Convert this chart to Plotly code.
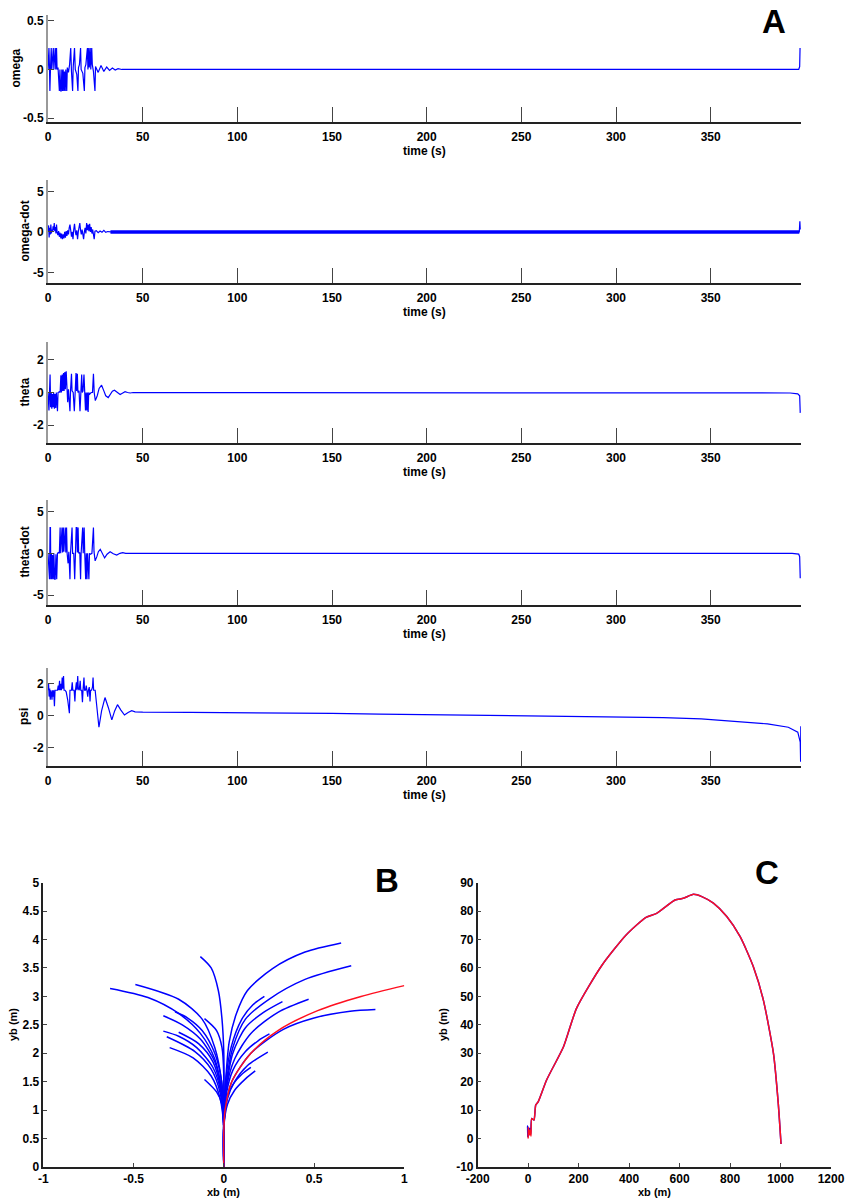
import plotly.graph_objects as go

# ---------------------------------------------------------------- data
# Panel A: attitude histories, (time [s], value) pairs
omega_pts = [
    (0, 0), (0.5, 0.22), (0.8, 0.0), (1.0, -0.22), (1.3, 0.0), (1.7, 0.22), (2.0, 0.0),
    (2.8, 0.22), (3.1, 0.0), (3.5, 0.22), (3.8, 0.22), (4.1, 0.0), (4.5, 0.22), (4.8, 0.0),
    (5.3, 0.02), (6.0, -0.22), (6.3, 0.0), (6.7, -0.22), (7.0, -0.22), (7.3, 0.0),
    (7.7, -0.22), (8.0, 0.0), (8.4, -0.22), (8.7, -0.02), (9.1, -0.22), (9.4, 0.0),
    (9.9, -0.22), (10.2, 0.02), (10.8, -0.03), (11.4, 0.05), (12.0, 0.22), (12.4, -0.02),
    (13.0, -0.22), (13.3, 0.02), (14.0, 0.22), (14.4, 0.0), (15.2, -0.05), (15.8, -0.22),
    (16.1, 0.02), (16.6, 0.05), (17.2, 0.22), (17.5, 0.0), (18.4, -0.04), (19.2, -0.22),
    (19.5, 0.02), (20.0, 0.05), (20.8, 0.22), (21.1, 0.0), (21.5, 0.22), (21.8, 0.02),
    (22.3, 0.22), (22.6, 0.0), (23.1, 0.22), (23.4, 0.05), (24.0, -0.02), (24.8, -0.22),
    (25.1, 0.03), (26.5, -0.03), (28.0, 0.04), (29.5, -0.02), (31.0, 0.025), (32.5, -0.01),
    (34.0, 0.015), (35.5, -0.005), (37.0, 0.008), (39.0, 0.0), (396.5, 0.0), (397.0, 0.03),
    (397.2, 0.22),
]

omegadot_pts = [
    (0, 0), (0.3, 0.8), (0.6, -0.7), (0.9, 0.5), (1.2, -0.3), (1.5, 0.9), (1.8, -0.2),
    (2.1, 0.3), (2.4, 0.0), (2.7, 0.7), (3.0, 0.2), (3.3, 1.1), (3.6, 0.1), (3.9, 0.6),
    (4.2, -0.2), (4.5, 0.9), (4.8, 0.0), (5.2, -0.4), (5.6, 0.1), (6.0, -0.6), (6.4, -0.1),
    (6.8, -0.8), (7.2, -0.2), (7.6, -0.9), (8.0, -0.3), (8.4, -0.8), (8.8, 0.0), (9.2, -0.7),
    (9.6, 0.1), (10.0, -0.5), (10.4, 0.2), (10.8, -0.3), (11.2, 0.5), (11.6, 0.9), (12.0, 0.2),
    (12.4, -0.6), (12.8, 0.0), (13.2, -0.9), (13.6, 0.3), (14.0, 1.0), (14.4, 0.1),
    (14.8, -0.4), (15.2, 0.2), (15.6, -0.9), (16.0, 0.0), (16.4, 0.6), (16.8, 1.1),
    (17.2, 0.2), (17.6, -0.3), (18.0, 0.3), (18.4, -0.6), (18.8, -0.9), (19.2, 0.0),
    (19.6, 0.5), (20.0, -0.2), (20.4, 1.1), (20.8, 0.2), (21.2, 0.9), (21.6, 0.1),
    (22.0, 1.0), (22.4, 0.0), (22.8, 0.6), (23.2, -0.2), (23.6, 0.3), (24.0, -0.3),
    (24.4, -0.9), (24.8, 0.1), (25.5, 0.15), (26.5, -0.1), (27.5, 0.1), (28.5, -0.05),
    (29.5, 0.2), (30.5, -0.05), (31.5, 0.05), (33.0, 0.0), (396.8, 0.0), (397.1, 1.3),
    (397.3, 0.3),
]

theta_pts = [
    (0, 0), (0.5, -1.1), (0.8, 0.0), (1.1, 1.1), (1.4, -0.9), (1.7, 0.0), (2.0, -1.0),
    (2.3, -0.1), (2.7, -0.9), (3.0, 0.0), (3.4, -1.0), (3.7, -0.1), (4.1, -0.95), (4.4, 0.0),
    (5.0, -1.15), (5.3, 0.0), (6.0, 0.05), (6.4, 0.0), (6.8, 1.05), (7.1, 0.0), (7.5, 1.1),
    (7.8, 0.1), (8.2, 1.2), (8.5, 0.1), (8.9, 1.25), (9.2, 0.2), (9.6, 1.3), (10.0, 0.1),
    (10.4, -0.6), (10.8, 0.2), (11.2, -0.4), (11.6, -1.15), (11.9, 0.1), (12.4, 1.15),
    (12.7, 0.1), (13.3, 0.0), (13.9, -1.15), (14.2, 0.0), (14.8, 1.2), (15.1, 0.1),
    (15.5, 1.15), (15.8, 0.0), (16.4, 0.1), (16.9, -1.15), (17.2, 0.0), (17.8, 1.1),
    (18.1, 0.0), (18.5, 0.1), (19.0, 1.1), (19.3, 0.0), (19.8, -1.1), (20.1, 0.0),
    (20.5, -1.1), (20.8, 0.0), (21.2, -1.2), (21.5, 0.0), (22.0, -0.1), (22.8, 0.0),
    (23.5, 0.0), (24.0, 1.15), (24.4, 0.0), (25.0, -0.5), (26.0, -0.2), (27.0, 0.25),
    (28.3, 0.45), (29.5, 0.1), (30.5, -0.2), (31.8, -0.31), (33.0, -0.1), (34.0, 0.08),
    (35.1, 0.14), (36.5, 0.0), (38.1, -0.12), (39.5, -0.03), (40.7, 0.05), (42.0, 0.0),
    (43.4, -0.03), (45.0, 0.0), (380.0, 0.0), (392.0, -0.03), (396.0, -0.08), (397.0, -0.2),
    (397.3, -1.25),
]

thetadot_pts = [
    (0, 0), (0.5, -3.1), (0.8, -3.1), (1.1, 3.1), (1.3, 3.1), (1.5, -3.1), (1.8, 0.0),
    (2.1, -3.1), (2.4, -0.2), (2.8, -3.1), (3.1, 0.0), (3.5, -3.1), (3.8, -3.1), (4.2, -0.1),
    (4.6, -3.1), (5.0, 0.0), (5.5, 0.1), (6.0, 0.0), (6.4, 3.1), (6.7, 0.0), (7.1, 3.1),
    (7.4, 3.1), (7.7, 0.1), (8.1, 3.1), (8.4, 0.2), (8.8, 3.1), (9.1, 3.1), (9.4, 0.1),
    (9.8, 3.1), (10.1, 0.0), (10.6, -1.2), (11.0, 0.2), (11.6, -3.1), (11.9, 0.0),
    (12.4, 3.1), (12.7, 3.1), (13.0, 0.0), (13.6, 0.0), (14.1, -3.1), (14.4, 0.0),
    (14.9, 3.1), (15.2, 3.1), (15.5, 0.1), (15.9, 3.1), (16.2, 0.0), (16.8, 0.1),
    (17.2, -3.1), (17.5, 0.0), (18.0, 3.1), (18.3, 3.1), (18.6, 0.0), (19.1, 3.1),
    (19.4, 0.0), (19.9, -3.1), (20.2, 0.0), (20.6, -3.1), (20.9, 0.0), (21.3, -3.1),
    (21.6, -3.1), (21.9, 0.0), (22.4, -0.1), (23.2, 0.0), (24.0, 3.1), (24.3, 0.2),
    (24.9, -0.9), (25.8, -0.4), (26.6, 0.2), (27.6, 0.48), (28.7, 0.0), (29.9, -0.55),
    (31.2, -0.1), (32.8, 0.2), (34.5, -0.05), (36.3, -0.2), (38.0, 0.0), (39.5, 0.08),
    (41.0, 0.0), (393.0, 0.0), (396.5, -0.1), (397.0, -0.4), (397.3, -3.0),
]

psi_pts = [
    (0, 1.6), (0.3, 2.0), (0.6, 1.2), (0.9, 1.7), (1.2, 1.0), (1.5, 1.6), (1.8, 1.4),
    (2.1, 1.0), (2.4, 1.6), (2.7, 1.2), (3.0, 1.6), (3.4, 0.6), (3.7, 1.6), (4.2, 1.6),
    (5.0, 1.6), (5.4, 1.9), (5.7, 1.6), (6.1, 2.2), (6.4, 1.6), (6.8, 2.0), (7.1, 1.6),
    (7.5, 2.4), (7.8, 1.7), (8.2, 2.5), (8.5, 1.6), (9.0, 1.6), (9.6, 1.5), (10.4, 1.0),
    (10.9, 0.6), (11.3, 0.15), (11.6, 1.6), (12.4, 1.6), (12.8, 2.1), (13.1, 1.6),
    (13.8, 1.6), (14.2, 0.9), (14.5, 1.6), (15.0, 2.1), (15.3, 1.6), (15.7, 2.5),
    (16.0, 1.7), (16.5, 1.6), (17.0, 2.2), (17.3, 1.6), (17.8, 1.6), (18.2, 0.85),
    (18.5, 1.6), (19.0, 2.4), (19.3, 1.6), (19.8, 1.6), (20.2, 1.9), (20.5, 1.6),
    (21.0, 1.2), (21.3, 1.6), (21.8, 1.8), (22.2, 0.9), (22.5, 1.6), (23.0, 1.6),
    (23.5, 1.8), (23.8, 2.4), (24.1, 1.6), (24.9, 1.6), (25.8, 0.4), (26.9, -0.73),
    (28.3, 0.3), (30.1, 1.14), (31.9, 0.5), (33.7, -0.27), (35.2, 0.3), (36.7, 0.69),
    (38.5, 0.35), (40.4, 0.04), (42.3, 0.2), (44.2, 0.31), (46.0, 0.24), (50, 0.22),
    (75, 0.21), (100, 0.2), (125, 0.18), (150, 0.14), (175, 0.1), (200, 0.07), (225, 0.03),
    (250, 0.0), (275, -0.03), (300, -0.07), (325, -0.12), (345, -0.2), (362, -0.35),
    (380, -0.52), (391, -0.73), (396, -1.04), (397.3, -1.67), (397.5, -2.9), (397.6, -0.67),
]

time_ticks = [0, 50, 100, 150, 200, 250, 300, 350]

# Panel B: body-frame trajectories (xb, yb) in metres
left_branches = [
    [(0, 0), (0, 0.8), (-0.015, 1.4), (-0.05, 1.9), (-0.13, 2.35), (-0.25, 2.7), (-0.42, 2.98), (-0.63, 3.14)],
    [(0, 0), (0, 0.8), (-0.012, 1.5), (-0.05, 2.1), (-0.12, 2.6), (-0.25, 2.95), (-0.49, 3.21)],
    [(0, 0), (0, 0.8), (-0.015, 1.4), (-0.05, 1.85), (-0.13, 2.25), (-0.23, 2.5), (-0.335, 2.66)],
    [(0, 0), (0, 0.8), (-0.012, 1.5), (-0.05, 2.0), (-0.12, 2.4), (-0.2, 2.62), (-0.27, 2.73)],
    [(0, 0), (0, 0.7), (-0.015, 1.3), (-0.06, 1.75), (-0.15, 2.1), (-0.25, 2.3), (-0.335, 2.39)],
    [(0, 0), (0, 0.7), (-0.02, 1.3), (-0.07, 1.72), (-0.16, 2.03), (-0.316, 2.29)],
    [(0, 0), (0, 0.7), (-0.015, 1.35), (-0.06, 1.85), (-0.14, 2.17), (-0.25, 2.37)],
    [(0, 0), (0, 0.7), (-0.02, 1.2), (-0.07, 1.6), (-0.17, 1.92), (-0.30, 2.10)],
    [(0, 0), (0, 1.0), (0.0, 2.0), (-0.01, 2.6), (-0.03, 3.1), (-0.07, 3.5), (-0.13, 3.70)],
    [(0, 0), (0, 1.0), (0, 1.6), (-0.01, 2.1), (-0.04, 2.4), (-0.107, 2.61)],
    [(0, 0), (0, 0.7), (-0.01, 1.1), (-0.04, 1.32), (-0.107, 1.54)],
]
right_branches = [
    [(0, 0), (0, 0.8), (0.01, 1.5), (0.03, 2.2), (0.07, 2.7), (0.13, 3.1), (0.27, 3.49), (0.45, 3.78), (0.65, 3.94)],
    [(0, 0), (0, 0.8), (0.015, 1.5), (0.05, 2.1), (0.12, 2.6), (0.25, 2.95), (0.45, 3.3), (0.706, 3.54)],
    [(0, 0), (0, 0.6), (0.007, 1.0), (0.044, 1.5), (0.15, 2.0), (0.33, 2.42), (0.5, 2.62), (0.7, 2.74), (0.84, 2.77)],
    [(0, 0), (0, 0.8), (0.015, 1.4), (0.06, 1.9), (0.15, 2.35), (0.3, 2.72), (0.47, 2.95)],
    [(0, 0), (0, 0.8), (0.015, 1.4), (0.05, 2.0), (0.12, 2.45), (0.22, 2.72), (0.325, 2.91)],
    [(0, 0), (0, 0.8), (0.01, 1.5), (0.04, 2.1), (0.1, 2.6), (0.16, 2.85), (0.225, 3.0)],
    [(0, 0), (0, 0.7), (0.015, 1.3), (0.05, 1.7), (0.12, 2.03), (0.19, 2.22), (0.253, 2.34)],
    [(0, 0), (0, 0.7), (0.02, 1.2), (0.06, 1.5), (0.13, 1.78), (0.244, 2.02)],
    [(0, 0), (0, 0.7), (0.02, 1.1), (0.06, 1.35), (0.12, 1.55), (0.174, 1.69)],
    [(0, 0), (0, 0.7), (0.015, 1.2), (0.05, 1.45), (0.1, 1.63), (0.15, 1.75)],
]
red_branch = [(0, 0), (0, 0.6), (0.007, 1.0), (0.044, 1.5), (0.15, 2.0), (0.30, 2.4),
              (0.52, 2.75), (0.76, 3.0), (1.0, 3.19)]

# Panel C: long-range path (xb, yb) in metres
c_path = [
    (14, 7.1), (23, 6.5), (30, 11.8), (40, 13.0), (73, 20.6), (140, 32.3), (192, 45.9),
    (291, 60.8), (389, 71.7), (467, 77.8), (509, 79.2), (582, 83.9), (615, 84.5),
    (655, 85.9), (688, 85.1), (734, 82.8), (787, 78.1), (840, 71.0), (892, 60.5),
    (932, 48.7), (972, 30.0), (991, 12.4), (1002, -1.9),
]
c_start_red = [(0, 0), (0, 4.0), (5, 1.3), (7, 3.0), (11, 0.9)]
c_start_blue = [(-1, 0.5), (-3, 4.4), (2, 1.0), (6, 3.6), (10, 1.5)]

# ---------------------------------------------------------------- style
W, H = 845, 1198
BLUE = "#0000ff"
RED = "#ff1020"
FONT = "Liberation Sans Narrow, Liberation Sans, Arial, sans-serif"
tick_font = dict(family=FONT, size=12, color="black", weight="bold")
small_font = dict(family=FONT, size=11, color="black", weight="bold")


def hx(px):
    return px / W


def vy(py):
    return 1 - py / H


def unzip(pts):
    return [p[0] for p in pts], [p[1] for p in pts]


def fmt(v):
    return f"{v:g}"


fig = go.Figure()
layout = dict(
    width=W, height=H, autosize=False,
    margin=dict(l=0, r=0, t=0, b=0, autoexpand=False),
    paper_bgcolor="white", plot_bgcolor="white",
    showlegend=False,
)
annotations = []

# Panel A: five stacked time histories
panel_a = [
    ("omega", omega_pts, 15, 122, [-0.54, 0.56], [-0.5, 0, 0.5], 16),
    ("omega-dot", omegadot_pts, 180, 283, [-6.3, 6.4], [-5, 0, 5], 24),
    ("theta", theta_pts, 342, 443, [-3.1, 3.1], [-2, 0, 2], 24),
    ("theta-dot", thetadot_pts, 500, 605, [-6.2, 6.4], [-5, 0, 5], 24),
    ("psi", psi_pts, 668, 766, [-3.17, 3.0], [-2, 0, 2], 24),
]

for i, (name, pts, top, bot, yr, yt, tx) in enumerate(panel_a, start=1):
    xs, ys = unzip(pts)
    sfx = "" if i == 1 else str(i)
    fig.add_trace(go.Scatter(x=xs, y=ys, mode="lines",
                             line=dict(color=BLUE, width=1.2),
                             xaxis="x" + sfx, yaxis="y" + sfx))
    if name == "omega-dot":
        # steady-state chatter shows as a thick band around zero
        band = [p for p in pts if 33.0 <= p[0] <= 396.8]
        bx, by = unzip(band)
        fig.add_trace(go.Scatter(x=bx, y=by, mode="lines",
                                 line=dict(color=BLUE, width=3.5),
                                 xaxis="x" + sfx, yaxis="y" + sfx))
    layout["xaxis" + sfx] = dict(
        domain=[hx(48), hx(801)], range=[0, 397.7], anchor="y" + sfx,
        showline=True, linecolor="#222", linewidth=1.5,
        ticks="inside", ticklen=15, tickcolor="#444", tickwidth=1,
        tickvals=time_ticks, ticktext=[str(t) for t in time_ticks],
        tickfont=tick_font, showgrid=False, zeroline=False,
        ticklabelstandoff=3, automargin=False,
    )
    layout["yaxis" + sfx] = dict(
        domain=[vy(bot), vy(top)], range=yr, anchor="x" + sfx,
        showline=True, linecolor="#999", linewidth=2,
        ticks="inside", ticklen=6, tickcolor="#444", tickwidth=1,
        tickvals=yt, ticktext=[fmt(v) for v in yt],
        tickfont=tick_font, showgrid=False, zeroline=False, automargin=False,
    )
    annotations.append(dict(text="time (s)", x=hx(424.5), y=vy(bot + 29),
                            xref="paper", yref="paper", showarrow=False,
                            font=tick_font, xanchor="center", yanchor="middle"))
    annotations.append(dict(text=name, x=hx(tx), y=vy((top + bot) / 2),
                            xref="paper", yref="paper", showarrow=False,
                            textangle=-90, font=tick_font,
                            xanchor="center", yanchor="middle"))

# Panel B: fan of trajectories
for br in left_branches + right_branches:
    bx, by = unzip(br)
    fig.add_trace(go.Scatter(x=bx, y=by, mode="lines",
                             line=dict(color=BLUE, width=1.5, shape="spline", smoothing=0.8),
                             xaxis="x6", yaxis="y6"))
rx, ry = unzip(red_branch)
fig.add_trace(go.Scatter(x=rx, y=ry, mode="lines",
                         line=dict(color=RED, width=1.5, shape="spline", smoothing=0.8),
                         xaxis="x6", yaxis="y6"))

b_xt = [-1, -0.5, 0, 0.5, 1]
b_yt = [0, 0.5, 1, 1.5, 2, 2.5, 3, 3.5, 4, 4.5, 5]
layout["xaxis6"] = dict(
    domain=[hx(43.3), hx(404.3)], range=[-1, 1], anchor="y6",
    showline=True, linecolor="#222", linewidth=1.5,
    ticks="inside", ticklen=4, tickcolor="#444",
    tickvals=b_xt, ticktext=[fmt(v) for v in b_xt],
    tickfont=tick_font, showgrid=False, zeroline=False, ticklabelstandoff=0,
    automargin=False,
)
layout["yaxis6"] = dict(
    domain=[vy(1167), vy(882.7)], range=[0, 5], anchor="x6",
    showline=True, linecolor="#222", linewidth=1.5,
    ticks="inside", ticklen=4, tickcolor="#444",
    tickvals=b_yt, ticktext=[fmt(v) for v in b_yt],
    tickfont=tick_font, showgrid=False, zeroline=False, automargin=False,
)

# Panel C: long-range path
cbx, cby = unzip(c_start_blue + c_path)
fig.add_trace(go.Scatter(x=cbx, y=cby, mode="lines",
                         line=dict(color=BLUE, width=1.5, shape="spline", smoothing=0.6),
                         xaxis="x7", yaxis="y7"))
crx, cry = unzip(c_start_red + c_path)
fig.add_trace(go.Scatter(x=crx, y=cry, mode="lines",
                         line=dict(color=RED, width=1.5, shape="spline", smoothing=0.6),
                         xaxis="x7", yaxis="y7"))

c_xt = [-200, 0, 200, 400, 600, 800, 1000, 1200]
c_yt = [-10, 0, 10, 20, 30, 40, 50, 60, 70, 80, 90]
layout["xaxis7"] = dict(
    domain=[hx(477.7), hx(831)], range=[-200, 1200], anchor="y7",
    showline=True, linecolor="#222", linewidth=1.5,
    ticks="inside", ticklen=4, tickcolor="#444",
    tickvals=c_xt, ticktext=[fmt(v) for v in c_xt],
    tickfont=tick_font, showgrid=False, zeroline=False, ticklabelstandoff=0,
    automargin=False,
)
layout["yaxis7"] = dict(
    domain=[vy(1167), vy(882.7)], range=[-10, 90], anchor="x7",
    showline=True, linecolor="#222", linewidth=1.5,
    ticks="inside", ticklen=4, tickcolor="#444",
    tickvals=c_yt, ticktext=[fmt(v) for v in c_yt],
    tickfont=tick_font, showgrid=False, zeroline=False, automargin=False,
)

# axis titles for the lower panels
for text, px, py, ang in [("xb (m)", 223, 1192, 0), ("yb (m)", 13, 1025, -90),
                          ("xb (m)", 654, 1192, 0), ("yb (m)", 443, 1025, -90)]:
    annotations.append(dict(text=text, x=hx(px), y=vy(py), xref="paper", yref="paper",
                            showarrow=False, textangle=ang, font=small_font,
                            xanchor="center", yanchor="middle"))

# panel letters
letter_font = dict(family="Liberation Sans, Arial, sans-serif", size=33, color="black", weight=900)
for text, px, py in [("A", 774, 21), ("B", 387, 881), ("C", 767, 872)]:
    annotations.append(dict(text=text, x=hx(px), y=vy(py), xref="paper", yref="paper",
                            showarrow=False, font=letter_font,
                            xanchor="center", yanchor="middle"))

layout["annotations"] = annotations
fig.update_layout(**layout)
fig.write_html("out.html")
